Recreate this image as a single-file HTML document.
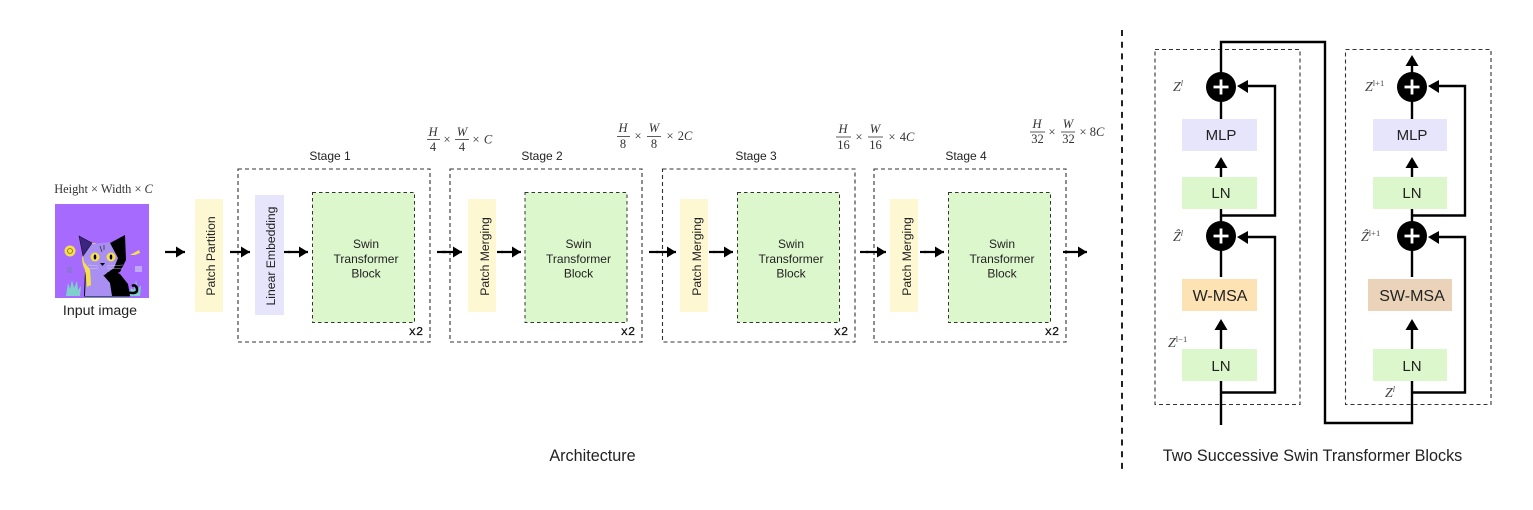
<!DOCTYPE html>
<html><head><meta charset="utf-8">
<style>
html,body{margin:0;padding:0;background:#fff;width:1533px;height:510px;overflow:hidden}
svg{display:block}
text{font-family:"Liberation Sans",sans-serif;fill:#222;text-anchor:middle}
.t{font-size:12px}
.r{font-size:12.2px}
.m{font-family:"Liberation Serif",serif;font-size:12.5px;fill:#333}
.i{font-style:italic}
.cap{font-size:16.2px}
.l{font-size:15px}
.b{fill:none;stroke:#333;stroke-width:1.1;stroke-dasharray:4 3}
.k{fill:none;stroke:#000;stroke-width:2.4}
.fl{stroke:#333;stroke-width:.8}
.x2{font-family:"Liberation Mono",monospace;font-size:12px;fill:#111;stroke:#111;stroke-width:.25}
.z{font-family:"Liberation Serif",serif;font-style:italic;font-size:14px;fill:#444;text-anchor:start}
</style></head><body>
<svg width="1533" height="510" viewBox="0 0 1533 510" xmlns="http://www.w3.org/2000/svg">
<defs>
<g id="ar"><path d="M0 0H-20" stroke="#000" stroke-width="2.2" fill="none"/><path d="M0 0L-9-5.5V5.5Z" fill="#000"/></g>
<g id="au"><path d="M-6.5 11L0 0L6.5 11Z" fill="#000"/></g>
<g id="pl"><circle r="15" fill="#000"/><path d="M-7.500 0H7.500M0-7.500V7.500" stroke="#fff" stroke-width="2.800"/></g>
</defs>

<!-- input image -->
<text class="m" x="103.500" y="193" style="font-size:12.4px">Height × Width × <tspan class="i">C</tspan></text>
<rect x="55" y="204" width="94" height="94" fill="#a66bfe"/>
<!-- plants -->
<path d="M66 296l2-13 2 6 2-9 2 8 3-7 1 9 3-4-1 10z" fill="#7fd0cc"/>
<path d="M130 296l1-8 3 2 2-10 2 9 3-4-1 11z" fill="#7fd0cc"/>
<!-- tail -->
<path d="M126 292q12 3 11-3q-1-5-5-3" stroke="#000" stroke-width="2.500" fill="none"/>
<!-- body -->
<path d="M85 272L84 296L130 296L128 284L120 274L112 270Z" fill="#000"/>
<path d="M86 270L85 296L112 296L110 283L104 276L108 272Z" fill="#a98ff2"/>
<path d="M84 296h46v1h-46z" fill="#2a6a4a"/>
<!-- yellow crescent -->
<path d="M88 243Q78 256 85 270L87 287L91 285L90 268Q86 255 96 243Z" fill="#f4df4c"/>
<!-- head -->
<path d="M79 236L91 244L112 242L125 235L125 262L117 272L92 272L84 262Z" fill="#a98ff2"/>
<!-- left ear -->
<path d="M79 236L92 243L83 256Z" fill="#3b2580" stroke="#111" stroke-width=".6"/>
<!-- black right side -->
<path d="M110 243L125 235L126 260L120 272L110 276L103 276L114 268L118 258Z" fill="#000"/>
<!-- eyes -->
<circle cx="95" cy="257" r="4.500" fill="#f4df4c"/><ellipse cx="95" cy="257" rx="1.300" ry="2.500" fill="#000"/>
<circle cx="111" cy="257" r="4.500" fill="#f4df4c"/><ellipse cx="111" cy="257" rx="1.300" ry="2.500" fill="#000"/>
<path d="M100 263h5l-2.500 3z" fill="#000"/>
<path d="M100 246l2 6M104 245l0 5" stroke="#333" stroke-width=".8"/>
<path d="M88 265l10 1M88 269l10-1M107 266l16-1M107 268l16 1" stroke="#ddd" stroke-width=".4"/>
<!-- side items -->
<circle cx="70" cy="251" r="5.500" fill="#f4df4c"/><circle cx="70" cy="251" r="2.500" fill="none" stroke="#8a6a10" stroke-width=".8"/>
<path d="M130 255l9-5 1 3-5 2z" fill="#f4df4c"/>
<rect x="67" y="267" width="5" height="6" fill="#8f73d8"/><rect x="135" y="266" width="7" height="6" fill="#c0a8f5"/>
<text x="100" y="315" style="font-size:14.200px">Input image</text>

<!-- stages -->
<text class="t" x="330" y="160">Stage 1</text>
<text class="t" x="542" y="160">Stage 2</text>
<text class="t" x="756" y="160">Stage 3</text>
<text class="t" x="966" y="160">Stage 4</text>
<rect class="b" x="238" y="169" width="192" height="173"/>
<rect class="b" x="450" y="169" width="192" height="173"/>
<rect class="b" x="662.500" y="169" width="192.500" height="173"/>
<rect class="b" x="874" y="169" width="192" height="173"/>

<rect x="195" y="199" width="28" height="113" fill="#fdf8d2"/>
<rect x="255" y="195" width="29" height="120" fill="#e6e5fb"/>
<rect x="468" y="199" width="28" height="113" fill="#fdf8d2"/>
<rect x="680" y="199" width="28" height="113" fill="#fdf8d2"/>
<rect x="890" y="199" width="28" height="113" fill="#fdf8d2"/>
<text class="r" transform="translate(215,256) rotate(-90)">Patch Partition</text>
<text class="r" transform="translate(275,256) rotate(-90)">Linear Embedding</text>
<text class="r" transform="translate(489,256.500) rotate(-90)">Patch Merging</text>
<text class="r" transform="translate(701,256.500) rotate(-90)">Patch Merging</text>
<text class="r" transform="translate(911,256.500) rotate(-90)">Patch Merging</text>

<g fill="#ddf7cd" stroke="#333" stroke-width="1" stroke-dasharray="3.500 3">
<rect x="312.500" y="192.500" width="102" height="130"/>
<rect x="525" y="192.500" width="102" height="130"/>
<rect x="737.500" y="192.500" width="102" height="130"/>
<rect x="948.500" y="192.500" width="102" height="130"/>
</g>
<g class="t">
<text x="366" y="248">Swin</text><text x="366" y="263">Transformer</text><text x="366" y="277.500">Block</text>
<text x="578.500" y="248">Swin</text><text x="578.500" y="263">Transformer</text><text x="578.500" y="277.500">Block</text>
<text x="791" y="248">Swin</text><text x="791" y="263">Transformer</text><text x="791" y="277.500">Block</text>
<text x="1002" y="248">Swin</text><text x="1002" y="263">Transformer</text><text x="1002" y="277.500">Block</text>
</g>
<text class="x2" x="416" y="335">x2</text>
<text class="x2" x="628" y="335">x2</text>
<text class="x2" x="841" y="335">x2</text>
<text class="x2" x="1052" y="335">x2</text>

<!-- arrows -->
<use href="#ar" x="185" y="252"/>
<use href="#ar" x="250" y="252"/>
<use href="#ar" x="308" y="252"/><path d="M284 252H290" stroke="#000" stroke-width="2.200"/>
<use href="#ar" x="462" y="252"/><path d="M437 252H446" stroke="#000" stroke-width="2.200"/>
<use href="#ar" x="521" y="252"/><path d="M497 252H503" stroke="#000" stroke-width="2.200"/>
<use href="#ar" x="676" y="252"/><path d="M649 252H658" stroke="#000" stroke-width="2.200"/>
<use href="#ar" x="733" y="252"/><path d="M709 252H715" stroke="#000" stroke-width="2.200"/>
<use href="#ar" x="886" y="252"/><path d="M860 252H868" stroke="#000" stroke-width="2.200"/>
<use href="#ar" x="944" y="252"/><path d="M920 252H926" stroke="#000" stroke-width="2.200"/>
<use href="#ar" x="1087" y="252"/><path d="M1063 252H1069" stroke="#000" stroke-width="2.200"/>

<!-- math labels -->
<g>
<text class="m i" x="433" y="136">H</text><path class="fl" d="M427 139.500H440"/><text class="m" x="433" y="151">4</text>
<text class="m" x="447" y="143.500">×</text>
<text class="m i" x="462" y="136">W</text><path class="fl" d="M455 139.500H469"/><text class="m" x="462" y="151">4</text>
<text class="m" x="476" y="143.500">×</text><text class="m i" x="488" y="143.500">C</text>

<text class="m i" x="623" y="132">H</text><path class="fl" d="M617 136.500H630"/><text class="m" x="623" y="148">8</text>
<text class="m" x="638" y="140">×</text>
<text class="m i" x="654" y="132">W</text><path class="fl" d="M647 136.500H661"/><text class="m" x="654" y="148">8</text>
<text class="m" x="670" y="140">×</text><text class="m" x="685" y="140">2<tspan class="i">C</tspan></text>

<text class="m i" x="843" y="133">H</text><path class="fl" d="M836 137H851"/><text class="m" x="843.500" y="149">16</text>
<text class="m" x="859" y="141">×</text>
<text class="m i" x="875" y="133">W</text><path class="fl" d="M868 137H883"/><text class="m" x="875.500" y="149">16</text>
<text class="m" x="892" y="141">×</text><text class="m" x="907" y="141">4<tspan class="i">C</tspan></text>

<text class="m i" x="1037" y="128">H</text><path class="fl" d="M1030 132H1045"/><text class="m" x="1037.500" y="143">32</text>
<text class="m" x="1052" y="136">×</text>
<text class="m i" x="1068" y="128">W</text><path class="fl" d="M1061 132H1075"/><text class="m" x="1068.500" y="143">32</text>
<text class="m" x="1083" y="136">×</text><text class="m" x="1097" y="136">8<tspan class="i">C</tspan></text>
</g>

<text class="cap" x="592.500" y="461">Architecture</text>
<text class="cap" x="1312.500" y="461">Two Successive Swin Transformer Blocks</text>
<path d="M1122 30V472" stroke="#222" stroke-width="2" stroke-dasharray="6 5.700"/>

<!-- blocks -->
<rect class="b" x="1155" y="49.500" width="145" height="355"/>
<rect class="b" x="1345.500" y="49.500" width="145.500" height="355"/>

<rect x="1182" y="119" width="75" height="32" fill="#e6e5fb"/>
<rect x="1182" y="177" width="75" height="32" fill="#ddf7cd"/>
<rect x="1182" y="279" width="75" height="32" fill="#fde3b3"/>
<rect x="1182" y="349" width="75" height="32" fill="#ddf7cd"/>
<rect x="1373" y="119" width="74" height="32" fill="#e6e5fb"/>
<rect x="1373" y="177" width="74" height="32" fill="#ddf7cd"/>
<rect x="1368" y="279" width="84" height="32" fill="#ebd3b9"/>
<rect x="1373" y="349" width="74" height="32" fill="#ddf7cd"/>

<text class="l" x="1221" y="140">MLP</text>
<text class="l" x="1221" y="198">LN</text>
<text class="l" x="1220" y="301" style="font-size:16px">W-MSA</text>
<text class="l" x="1221" y="371">LN</text>
<text class="l" x="1412" y="140">MLP</text>
<text class="l" x="1412" y="198">LN</text>
<text class="l" x="1412" y="301" style="font-size:16px">SW-MSA</text>
<text class="l" x="1412" y="371">LN</text>

<!-- connectors left -->
<path class="k" d="M1221 425V381M1221 349V325M1221 277V240M1221 209V225M1221 119V90M1221 177V165"/>
<path class="k" d="M1221 392.500H1275V237H1245M1221 215.500H1275V86H1245"/>
<path class="k" d="M1221 75V42H1325V423H1412V381"/>
<use href="#au" x="1221" y="319"/>
<use href="#au" x="1221" y="157"/>
<path d="M1237 86L1248 80V93Z" fill="#000"/>
<path d="M1237 237L1248 231V244Z" fill="#000"/>
<use href="#pl" x="1221" y="87"/>
<use href="#pl" x="1221" y="236"/>

<!-- connectors right -->
<path class="k" d="M1412 349V325M1412 277V240M1412 209V225M1412 119V90M1412 177V165M1412 75V60"/>
<path class="k" d="M1412 392.500H1465V237H1436M1412 215.500H1465V86H1436"/>
<use href="#au" x="1412" y="319"/>
<use href="#au" x="1412" y="157"/>
<use href="#au" x="1412" y="55"/>
<path d="M1428 86L1439 80V93Z" fill="#000"/>
<path d="M1428 237L1439 231V244Z" fill="#000"/>
<use href="#pl" x="1412" y="87"/>
<use href="#pl" x="1412" y="236"/>

<!-- Z labels -->
<text class="z" x="1173" y="91">Z<tspan dy="-5" font-size="8">l</tspan></text>
<text class="z" x="1173" y="241">Ẑ<tspan dy="-5" font-size="8">l</tspan></text>
<text class="z" x="1168" y="347">Z<tspan dy="-5" font-size="8.500" font-style="normal">l−1</tspan></text>
<text class="z" x="1365" y="91">Z<tspan dy="-5" font-size="8.500" font-style="normal">l+1</tspan></text>
<text class="z" x="1361" y="241">Ẑ<tspan dy="-5" font-size="8.500" font-style="normal">l+1</tspan></text>
<text class="z" x="1385" y="397">Z<tspan dy="-5" font-size="8">l</tspan></text>
</svg>
</body></html>
